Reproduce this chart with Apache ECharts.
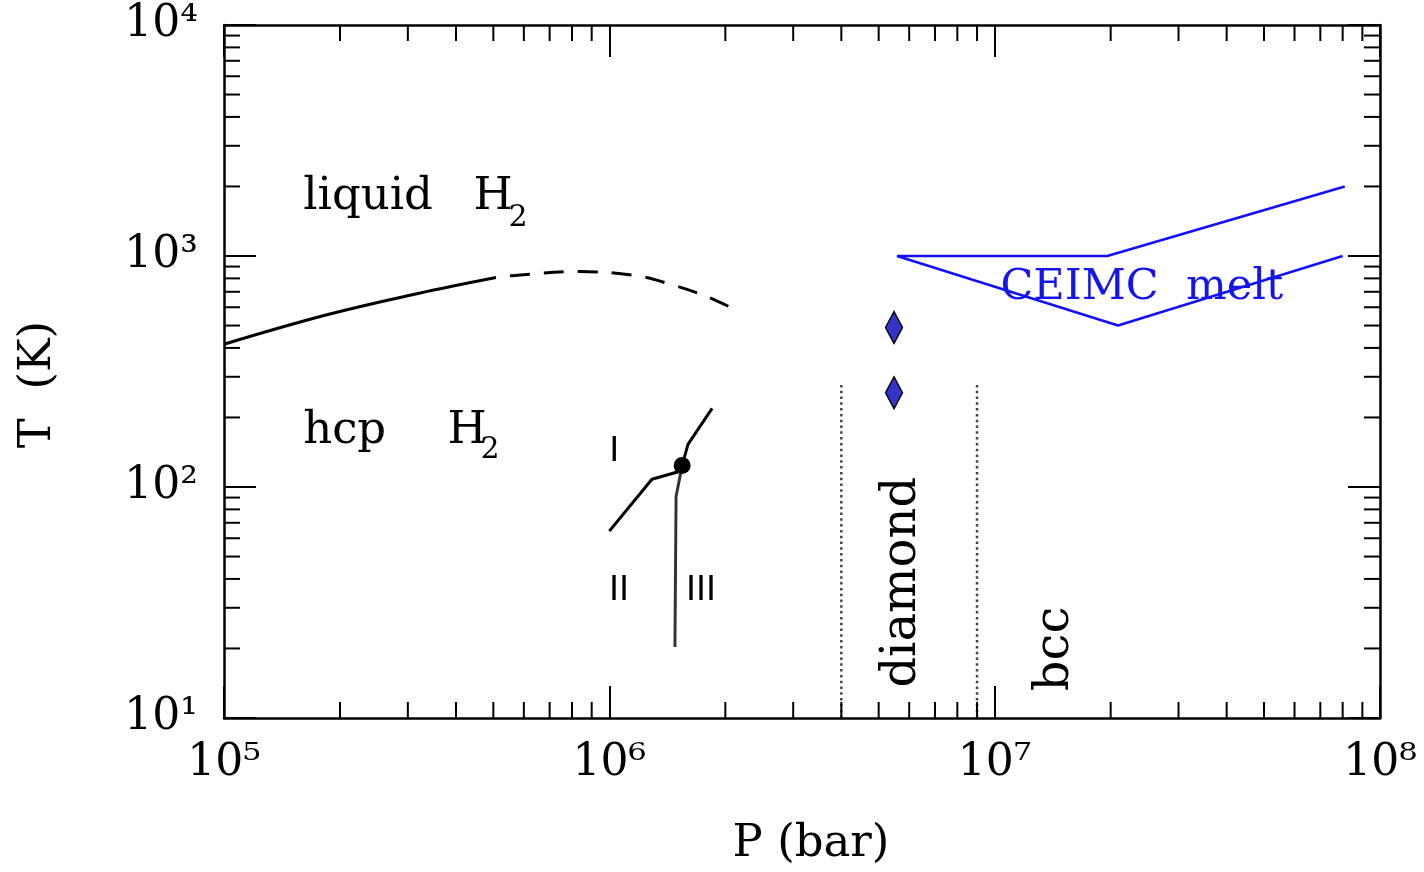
<!DOCTYPE html>
<html><head><meta charset="utf-8">
<script src="https://cdn.jsdelivr.net/npm/echarts@6/dist/echarts.min.js"></script>
<style>html,body{margin:0;padding:0;background:#fff}#c{width:1424px;height:872px}</style>
</head><body><div id="c"></div>
<script>
// ---- tick labels ----
const xTickLabels = ['10⁵', '10⁶', '10⁷', '10⁸'];
const yTickLabels = ['10¹', '10²', '10³', '10⁴'];
const xMinorTicks = [2e5,3e5,4e5,5e5,6e5,7e5,8e5,9e5, 2e6,3e6,4e6,5e6,6e6,7e6,8e6,9e6, 2e7,3e7,4e7,5e7,6e7,7e7,8e7,9e7];
const yMinorTicks = [20,30,40,50,60,70,80,90, 200,300,400,500,600,700,800,900, 2000,3000,4000,5000,6000,7000,8000,9000];

// ---- data (P in bar, T in K) ----
const liquidSolidP = [1e5, 1.86e5, 3.17e5, 5.08e5];
const liquidSolidT = [415, 558, 687, 807];
const liquidDashP = [5.08e5, 5.6e5, 8.35e5, 1.17e6, 1.45e6, 1.8e6, 2.17e6];
const liquidDashT = [807, 822, 856, 822, 752, 665, 575];

const boundaryI_II_P = [1.0e6, 1.29e6, 1.526e6, 1.545e6];
const boundaryI_II_T = [64.4, 108, 117, 124];
const boundaryII_III_P = [1.48e6, 1.49e6, 1.545e6];
const boundaryII_III_T = [20.3, 91, 124];
const boundaryI_III_P = [1.545e6, 1.60e6, 1.848e6];
const boundaryI_III_T = [124, 153, 219];
const triplePointP = [1.545e6];
const triplePointT = [124];

const ceimcP = [8.1e7, 1.96e7, 5.58e6, 2.09e7, 8.0e7];
const ceimcT = [2000, 1000, 1000, 500, 1000];

const diamondPtsP = [5.48e6, 5.48e6];
const diamondPtsT = [490, 256];

const dottedLeftP = [4e6, 4e6];
const dottedRightP = [9e6, 9e6];
const dottedT = [10, 280];

// text annotations
const annotTexts = ['liquid', 'H', '2', 'hcp', 'H', '2', 'diamond', 'bcc', 'CEIMC  melt', 'I', 'II', 'III'];
const annotP = [1.6e5, 4.43e5, 5.46e5, 1.6e5, 3.79e5, 4.62e5, 5.75e6, 1.435e7, 2.41e7, 1.03e6, 1.06e6, 1.73e6];
const annotT = [1800, 1800, 1451, 174, 174, 144, 38.7, 19.9, 730, 141, 35.4, 35.4];

const zip = (a, b) => a.map((v, i) => [v, b[i]]);
const SERIF = 'DejaVu Serif';

const chart = echarts.init(document.getElementById('c'), null, {renderer: 'canvas'});

const xMin = 1e5, xMax = 1e8, yMin = 10, yMax = 1e4;

function xAxisCfg(pos, showLabel) {
  return {
    type: 'log', logBase: 10, min: xMin, max: xMax, position: pos,
    splitLine: {show: false},
    axisLine: {show: true, lineStyle: {color: '#000', width: 2.5}},
    axisTick: {show: true, inside: true, length: 32, lineStyle: {color: '#000', width: 2}},
    axisLabel: {show: showLabel, margin: 24, color: '#000', fontFamily: SERIF, fontSize: 44,
      formatter: v => xTickLabels[Math.round(Math.log10(v)) - 5]},
    name: showLabel ? 'P (bar)' : '', nameLocation: 'middle', nameGap: 104,
    nameTextStyle: {color: '#000', fontFamily: SERIF, fontSize: 45, padding: [0, 0, 0, 18]}
  };
}
function yAxisCfg(pos, showLabel) {
  return {
    type: 'log', logBase: 10, min: yMin, max: yMax, position: pos,
    splitLine: {show: false},
    axisLine: {show: true, lineStyle: {color: '#000', width: 2.5}},
    axisTick: {show: true, inside: true, length: 32, lineStyle: {color: '#000', width: 2}},
    axisLabel: {show: showLabel, margin: 26, color: '#000', fontFamily: SERIF, fontSize: 44,
      formatter: v => yTickLabels[Math.round(Math.log10(v)) - 1]},
    name: showLabel ? 'T  (K)' : '', nameLocation: 'middle', nameGap: 163, nameRotate: 90,
    nameTextStyle: {color: '#000', fontFamily: SERIF, fontSize: 45, padding: [0, 26, 0, 0]}
  };
}

function minorRender(params, api) {
  const isX = params.seriesName === 'xminor';
  const v = api.value(isX ? 0 : 1);
  const L = 16;
  const st = {stroke: '#000', lineWidth: 2};
  if (isX) {
    const b = api.coord([v, yMin]), t = api.coord([v, yMax]);
    return {type: 'group', children: [
      {type: 'line', shape: {x1: b[0], y1: b[1], x2: b[0], y2: b[1] - L}, style: st},
      {type: 'line', shape: {x1: t[0], y1: t[1], x2: t[0], y2: t[1] + L}, style: st}
    ]};
  } else {
    const l = api.coord([xMin, v]), r = api.coord([xMax, v]);
    return {type: 'group', children: [
      {type: 'line', shape: {x1: l[0], y1: l[1], x2: l[0] + L, y2: l[1]}, style: st},
      {type: 'line', shape: {x1: r[0], y1: r[1], x2: r[0] - L, y2: r[1]}, style: st}
    ]};
  }
}

const lineBase = (data, color, width, type, extra) => Object.assign({
  type: 'line', data, symbol: 'none', silent: true, animation: false,
  lineStyle: {color, width, type}
}, extra || {});

const serifLeft = {position: 'right', distance: 0, fontFamily: SERIF, fontSize: 45, color: '#000'};
const subLeft = {position: 'right', distance: 0, fontFamily: SERIF, fontSize: 30, color: '#000'};
const roman = {position: 'inside', fontFamily: 'DejaVu Sans', fontSize: 34, color: '#000'};
const annotStyles = [
  serifLeft, serifLeft, subLeft,
  serifLeft, serifLeft, subLeft,
  {position: 'inside', rotate: 90, fontFamily: SERIF, fontSize: 48, color: '#000'},
  {position: 'inside', rotate: 90, fontFamily: SERIF, fontSize: 48, color: '#000'},
  {position: 'inside', fontFamily: SERIF, fontSize: 43, color: '#1414ee'},
  roman, roman, roman
];

chart.setOption({
  animation: false,
  backgroundColor: '#fff',
  grid: {left: 224, right: 44, top: 25, bottom: 153, containLabel: false},
  xAxis: [xAxisCfg('bottom', true), xAxisCfg('top', false)],
  yAxis: [yAxisCfg('left', true), yAxisCfg('right', false)],
  series: [
    {type: 'custom', name: 'xminor', renderItem: minorRender, data: xMinorTicks.map(v => [v, yMin]), silent: true, clip: false, z: 5},
    {type: 'custom', name: 'yminor', renderItem: minorRender, data: yMinorTicks.map(v => [xMin, v]), silent: true, clip: false, z: 5},
    lineBase(zip(liquidSolidP, liquidSolidT), '#000', 3, 'solid', {smooth: 0.4}),
    lineBase(zip(liquidDashP, liquidDashT), '#000', 3, [20, 14], {smooth: 0.4, lineStyle: {color: '#000', width: 3, type: [20, 14], dashOffset: 20}}),
    lineBase(zip(boundaryI_II_P, boundaryI_II_T), '#000', 3, 'solid'),
    lineBase(zip(boundaryII_III_P, boundaryII_III_T), '#333', 3, 'solid'),
    lineBase(zip(boundaryI_III_P, boundaryI_III_T), '#000', 3, 'solid'),
    {type: 'scatter', data: zip(triplePointP, triplePointT), symbol: 'circle', symbolSize: 17,
      itemStyle: {color: '#000', opacity: 1}, silent: true, z: 4},
    lineBase(zip(ceimcP, ceimcT), '#1010ff', 2.5, 'solid'),
    lineBase(zip(dottedLeftP, dottedT), '#444', 2.5, [2.5, 3.3]),
    lineBase(zip(dottedRightP, dottedT), '#444', 2.5, [2.5, 3.3]),
    {type: 'scatter', data: zip(diamondPtsP, diamondPtsT), symbol: 'diamond', symbolSize: [17, 32],
      itemStyle: {color: '#3434c8', borderColor: '#000', borderWidth: 1.5, opacity: 1}, silent: true, z: 4},
    {type: 'scatter', silent: true, symbolSize: 1, itemStyle: {color: 'rgba(0,0,0,0)', opacity: 1}, z: 6,
      data: annotTexts.map((t, i) => ({
        value: [annotP[i], annotT[i]], name: t,
        label: Object.assign({show: true, formatter: '{b}', opacity: 1, textBorderWidth: 0}, annotStyles[i])
      }))}
  ]
});
</script></body></html>
